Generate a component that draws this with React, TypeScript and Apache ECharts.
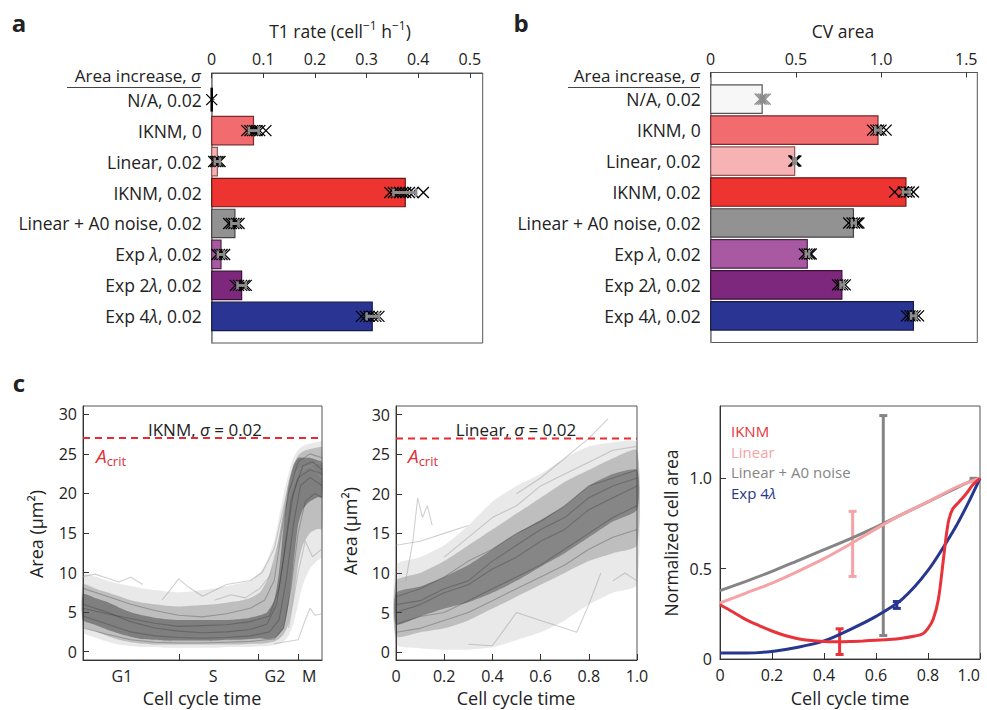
import React, { useEffect, useRef } from 'react';
import * as echarts from 'echarts';

const FONT = '"Open Sans", "Noto Sans", sans-serif';
const TXT = '#222';

// ---------- panels a & b ----------
const categories = ['N/A, 0.02', 'IKNM, 0', 'Linear, 0.02', 'IKNM, 0.02', 'Linear + A0 noise, 0.02', 'Exp λ, 0.02', 'Exp 2λ, 0.02', 'Exp 4λ, 0.02'];
const barColors = ['#f7f7f7', '#f26b6e', '#f7b2b4', '#ee3431', '#929292', '#a959a2', '#7d287c', '#2a3593'];
const barBorders = ['#555555', '#7a2a2c', '#8b5a5c', '#6d1514', '#444444', '#4a2447', '#3a1039', '#141a4a'];

const t1Ticks = [0, 0.1, 0.2, 0.3, 0.4, 0.5];
const t1Rate = [0, 0.081, 0.011, 0.375, 0.045, 0.018, 0.058, 0.311];
const t1ErrLow = [null, 0.072, 0.006, 0.352, 0.038, 0.012, 0.05, 0.3];
const t1ErrHigh = [null, 0.091, 0.016, 0.396, 0.052, 0.024, 0.066, 0.324];
const t1Runs = [
  [0],
  [0.068, 0.074, 0.079, 0.083, 0.088, 0.093, 0.105],
  [0.004, 0.008, 0.012, 0.016],
  [0.345, 0.352, 0.358, 0.364, 0.37, 0.376, 0.383, 0.39, 0.41],
  [0.033, 0.038, 0.043, 0.048, 0.053],
  [0.01, 0.015, 0.02, 0.025],
  [0.046, 0.052, 0.058, 0.063, 0.067],
  [0.29, 0.298, 0.305, 0.312, 0.318, 0.324],
];

const cvTicks = [0, 0.5, 1.0, 1.5];
const cvArea = [0.302, 0.982, 0.493, 1.146, 0.838, 0.567, 0.77, 1.19];
const cvErrLow = [0.295, 0.966, 0.486, 1.128, 0.828, 0.558, 0.762, 1.176];
const cvErrHigh = [0.312, 0.998, 0.5, 1.168, 0.852, 0.578, 0.782, 1.206];
const cvRuns = [
  [0.29, 0.3, 0.31, 0.32],
  [0.95, 0.97, 0.985, 1.0, 1.03],
  [0.488, 0.493, 0.5],
  [1.08, 1.13, 1.15, 1.165, 1.19],
  [0.81, 0.83, 0.845, 0.86, 0.87],
  [0.55, 0.565, 0.58, 0.59],
  [0.745, 0.76, 0.775, 0.79],
  [1.15, 1.17, 1.185, 1.2, 1.22],
];

// ---------- panel c left: IKNM trajectories ----------
const areaTicks = [0, 5, 10, 15, 20, 25, 30];
const aCrit = 27;
const phaseBoundaries = [0.402, 0.732, 0.9];
const phaseLabelPos = [0.163, 0.544, 0.803, 0.946];
const phaseLabels = ['G1', 'S', 'G2', 'M'];

const iknmT = [0, 0.05, 0.1, 0.15, 0.2, 0.25, 0.3, 0.35, 0.4, 0.45, 0.5, 0.55, 0.6, 0.65, 0.7, 0.74, 0.77, 0.8, 0.82, 0.84, 0.86, 0.88, 0.9, 0.92, 0.95, 0.98, 1.0];
const iknmOuterLow = [2.5, 1.8, 1.3, 0.9, 0.7, 0.6, 0.6, 0.5, 0.5, 0.5, 0.5, 0.5, 0.6, 0.6, 0.6, 0.7, 0.7, 0.8, 1.0, 1.3, 2.0, 3.5, 6.0, 8.5, 10.5, 11.5, 12.0];
const iknmOuterHigh = [9.8, 9.5, 9.0, 8.6, 8.3, 8.0, 7.8, 7.6, 7.5, 7.6, 7.8, 8.0, 8.3, 8.6, 9.0, 10.0, 11.5, 14.0, 17.0, 20.0, 22.5, 24.5, 25.5, 26.0, 26.3, 26.5, 26.6];
const iknmMidLow = [3.2, 2.6, 2.0, 1.5, 1.2, 1.0, 0.9, 0.9, 0.9, 0.9, 0.9, 0.9, 0.9, 0.9, 1.0, 1.0, 1.1, 1.3, 1.6, 2.2, 3.5, 6.5, 11.0, 13.5, 15.0, 15.5, 15.5];
const iknmMidHigh = [8.5, 8.0, 7.5, 7.0, 6.5, 6.2, 6.0, 5.8, 5.7, 5.8, 5.9, 6.0, 6.2, 6.4, 6.8, 7.5, 9.0, 11.5, 14.5, 18.0, 21.5, 23.5, 24.8, 25.3, 25.6, 25.8, 25.8];
const iknmCoreLow = [4.0, 3.4, 2.8, 2.3, 1.9, 1.6, 1.5, 1.4, 1.4, 1.4, 1.4, 1.4, 1.5, 1.5, 1.6, 1.7, 1.6, 1.7, 2.2, 3.0, 6.0, 11.0, 16.0, 18.0, 19.0, 19.5, 19.5];
const iknmCoreHigh = [7.3, 6.8, 6.3, 5.6, 5.0, 4.6, 4.3, 4.1, 4.0, 4.0, 4.0, 4.0, 4.0, 4.1, 4.3, 4.6, 5.0, 6.5, 10.0, 16.0, 21.0, 23.5, 24.5, 24.5, 24.5, 24.2, 24.0];
const iknmTraces = [
  [[0.5, 7], [0.6, 8.5], [0.7, 9], [0.75, 10], [0.8, 13], [0.83, 17], [0.86, 21], [0.9, 23], [1.0, 24]],
  [[0.8, 1.0], [0.9, 1.5], [0.93, 4], [0.95, 5.5], [0.97, 4.6], [1.0, 4.8]],
  [[0.33, 6.5], [0.37, 8], [0.4, 9.2], [0.44, 8.2], [0.5, 7]],
  [[0.86, 3], [0.9, 10], [0.93, 14], [0.96, 12], [1.0, 13]],
  [[0, 9.5], [0.05, 9.8], [0.1, 9.3], [0.15, 8.8], [0.2, 9.4], [0.25, 8.5]],
  [[0.55, 6.5], [0.62, 7.2], [0.68, 6.8], [0.74, 8], [0.78, 9.5], [0.82, 14], [0.85, 19], [0.9, 22.5], [0.95, 23.5], [1.0, 22]],
];
const iknmCoreTraces = [
  [[0, 6], [0.1, 5], [0.2, 3.8], [0.3, 3], [0.4, 2.6], [0.5, 2.4], [0.6, 2.5], [0.7, 2.8], [0.77, 3.5], [0.81, 6], [0.84, 12], [0.87, 19], [0.9, 22], [0.95, 23], [1, 22.5]],
  [[0, 4.5], [0.1, 3.5], [0.2, 2.5], [0.3, 2], [0.4, 1.8], [0.5, 1.7], [0.6, 1.8], [0.7, 2], [0.78, 2.5], [0.82, 4], [0.85, 9], [0.88, 16], [0.91, 21], [0.95, 22], [1, 21]],
  [[0, 8], [0.1, 7], [0.2, 6], [0.3, 5.2], [0.4, 4.6], [0.5, 4.4], [0.6, 4.8], [0.7, 5.5], [0.76, 6.5], [0.8, 9], [0.83, 15], [0.86, 20], [0.9, 24], [0.95, 25], [1, 24.5]],
  [[0, 3], [0.1, 2.2], [0.2, 1.5], [0.3, 1.2], [0.4, 1.1], [0.5, 1.1], [0.6, 1.2], [0.7, 1.3], [0.8, 1.6], [0.84, 3], [0.87, 8], [0.9, 15], [0.93, 19], [0.97, 20], [1, 19.5]],
  [[0, 5.5], [0.1, 4.8], [0.2, 4.2], [0.3, 3.6], [0.4, 3.2], [0.5, 3.3], [0.6, 3.4], [0.7, 3.8], [0.78, 4.5], [0.82, 8], [0.85, 14], [0.88, 20], [0.92, 23.5], [0.96, 24], [1, 23]],
];

// ---------- panel c middle: Linear trajectories ----------
const cycleTicks = [0, 0.2, 0.4, 0.6, 0.8, 1.0];
const linT = [0, 0.1, 0.2, 0.3, 0.4, 0.5, 0.6, 0.7, 0.8, 0.9, 1.0];
const linOuterLow = [1.0, 0.5, 0.3, 0.3, 0.6, 1.5, 2.5, 4.0, 6.0, 7.5, 8.5];
const linOuterHigh = [11.0, 12.0, 13.5, 16.0, 19.0, 21.0, 22.5, 24.5, 26.0, 26.5, 26.5];
const linMidLow = [2.0, 2.5, 3.0, 4.0, 5.5, 7.0, 8.5, 10.0, 11.5, 12.5, 13.5];
const linMidHigh = [9.0, 10.0, 11.5, 13.5, 15.5, 17.5, 19.5, 21.5, 23.0, 24.5, 25.5];
const linCoreLow = [3.5, 4.5, 5.5, 6.3, 7.5, 9.0, 10.8, 12.5, 14.5, 16.5, 18.0];
const linCoreHigh = [7.5, 8.3, 9.5, 11.0, 13.0, 15.0, 16.7, 18.5, 21.0, 22.5, 23.0];
const linTraces = [
  [[0.04, 9], [0.07, 14], [0.09, 19.5], [0.11, 17], [0.13, 18.5], [0.15, 16]],
  [[0.5, 20], [0.6, 22], [0.7, 24.5], [0.8, 27], [0.88, 29.5]],
  [[0, 13.5], [0.1, 14], [0.2, 15], [0.3, 16]],
  [[0.3, 1], [0.4, 0.8], [0.5, 5], [0.6, 4], [0.7, 3], [0.75, 2.5], [0.8, 6], [0.85, 10]],
  [[0.9, 9], [0.95, 10], [1.0, 9]],
  [[0.2, 12], [0.3, 14.5], [0.4, 17], [0.5, 18.5], [0.6, 21], [0.7, 22.5], [0.8, 24], [0.9, 25.5], [1.0, 26]],
];
const linCoreTraces = [
  [[0, 5], [0.1, 6], [0.2, 7.5], [0.3, 8.5], [0.4, 10.5], [0.5, 12], [0.6, 14], [0.7, 15.5], [0.8, 18], [0.9, 19.5], [1, 21]],
  [[0, 3.5], [0.1, 4.5], [0.2, 5], [0.3, 6.5], [0.4, 8], [0.5, 9.5], [0.6, 11], [0.7, 13], [0.8, 15], [0.9, 17], [1, 18.5]],
  [[0, 7], [0.1, 8], [0.2, 9.5], [0.3, 11.5], [0.4, 13], [0.5, 15], [0.6, 16.5], [0.7, 18.5], [0.8, 21], [0.9, 22], [1, 23]],
  [[0, 6], [0.1, 6.5], [0.2, 8], [0.3, 9], [0.4, 11.5], [0.5, 13.5], [0.6, 15.5], [0.7, 17], [0.8, 19.5], [0.9, 21], [1, 22]],
  [[0, 2.5], [0.1, 3], [0.2, 4], [0.3, 5], [0.4, 6.5], [0.5, 8], [0.6, 9.5], [0.7, 11], [0.8, 13], [0.9, 14.5], [1, 15.5]],
];

// ---------- panel c right: normalized curves ----------
const normTicksY = [0, 0.5, 1.0];
const iknmNormT = [0, 0.05, 0.1, 0.15, 0.2, 0.25, 0.3, 0.35, 0.4, 0.45, 0.5, 0.55, 0.6, 0.65, 0.7, 0.75, 0.78, 0.8, 0.82, 0.84, 0.86, 0.87, 0.88, 0.895, 0.92, 0.95, 0.97, 1.0];
const iknmNorm = [0.30, 0.26, 0.218, 0.185, 0.155, 0.13, 0.112, 0.102, 0.097, 0.096, 0.097, 0.1, 0.104, 0.108, 0.115, 0.127, 0.14, 0.17, 0.22, 0.33, 0.56, 0.68, 0.77, 0.83, 0.87, 0.92, 0.96, 1.0];
const curveT = [0, 0.1, 0.2, 0.3, 0.4, 0.5, 0.6, 0.7, 0.8, 0.9, 0.95, 1.0];
const linearNorm = [0.31, 0.365, 0.42, 0.485, 0.555, 0.635, 0.72, 0.8, 0.87, 0.945, 0.975, 1.0];
const linearA0Norm = [0.378, 0.43, 0.485, 0.545, 0.605, 0.665, 0.73, 0.8, 0.87, 0.94, 0.975, 1.0];
const exp4Norm = [0.033, 0.033, 0.042, 0.065, 0.1, 0.163, 0.236, 0.33, 0.49, 0.715, 0.85, 1.0];
// [t, low, high, colorIndex]
const normErrBars = [
  [0.46, 0.025, 0.167, 0],
  [0.51, 0.457, 0.817, 1],
  [0.628, 0.13, 1.347, 2],
  [0.68, 0.28, 0.318, 3],
  [0.975, 0.985, 1.0, 2],
];
const normNames = ['IKNM', 'Linear', 'Linear + A0 noise', 'Exp 4λ'];
const normColors = ['#e8333a', '#f5a3a6', '#858585', '#27378f'];

// ---------- helpers ----------
const fmtNum = (v: number) => (v === 0 ? '0' : v.toFixed(1));

function barSeries(ax: number, values: number[]) {
  return {
    type: 'custom', xAxisIndex: ax, yAxisIndex: ax, silent: true,
    data: values.map((v, i) => [v, i]),
    renderItem: (p: any, api: any) => {
      const v = api.value(0); const i = api.value(1);
      const p0 = api.coord([0, i]); const p1 = api.coord([v, i]);
      const h = Math.abs(api.size([0, 0.92])[1]);
      if (v < 1e-6) {
        return { type: 'line', shape: { x1: p0[0], y1: p0[1] - h * 0.42, x2: p0[0], y2: p0[1] + h * 0.42 }, style: { stroke: '#000', lineWidth: 2.5 } };
      }
      return { type: 'rect', shape: { x: p0[0], y: p0[1] - h / 2, width: p1[0] - p0[0], height: h }, style: { fill: barColors[i], stroke: barBorders[i], lineWidth: 1.2 } };
    },
  };
}

function crossSeries(ax: number, runs: number[][], grayFirst: boolean) {
  const data: number[][] = [];
  runs.forEach((r, i) => r.forEach((v) => data.push([v, i])));
  return {
    type: 'custom', xAxisIndex: ax, yAxisIndex: ax, silent: true, data,
    renderItem: (p: any, api: any) => {
      const c = api.coord([api.value(0), api.value(1)]);
      const s = 5.5;
      const col = grayFirst && api.value(1) === 0 ? '#8f8f8f' : '#000';
      return {
        type: 'group', children: [
          { type: 'line', shape: { x1: c[0] - s, y1: c[1] - s, x2: c[0] + s, y2: c[1] + s }, style: { stroke: col, lineWidth: 1.3 } },
          { type: 'line', shape: { x1: c[0] - s, y1: c[1] + s, x2: c[0] + s, y2: c[1] - s }, style: { stroke: col, lineWidth: 1.3 } },
        ],
      };
    },
  };
}

function hErrSeries(ax: number, lo: (number | null)[], hi: (number | null)[]) {
  const data: number[][] = [];
  lo.forEach((l, i) => { if (l !== null && hi[i] !== null) data.push([i, l as number, hi[i] as number]); });
  return {
    type: 'custom', xAxisIndex: ax, yAxisIndex: ax, silent: true, data,
    encode: { x: [1, 2], y: 0 },
    renderItem: (p: any, api: any) => {
      const i = api.value(0);
      const a = api.coord([api.value(1), i]); const b = api.coord([api.value(2), i]);
      const c = '#8c8c8c';
      return {
        type: 'group', children: [
          { type: 'line', shape: { x1: a[0], y1: a[1], x2: b[0], y2: b[1] }, style: { stroke: c, lineWidth: 3 } },
          { type: 'line', shape: { x1: a[0], y1: a[1] - 4, x2: a[0], y2: a[1] + 4 }, style: { stroke: c, lineWidth: 2.5 } },
          { type: 'line', shape: { x1: b[0], y1: b[1] - 4, x2: b[0], y2: b[1] + 4 }, style: { stroke: c, lineWidth: 2.5 } },
        ],
      };
    },
  };
}

function bandSeries(ax: number, t: number[], lo: number[], hi: number[], fill: string) {
  return {
    type: 'custom', xAxisIndex: ax, yAxisIndex: ax, silent: true, data: [[t[0], lo[0]]],
    renderItem: (p: any, api: any) => {
      const pts: number[][] = [];
      for (let i = 0; i < t.length; i++) pts.push(api.coord([t[i], lo[i]]));
      for (let i = t.length - 1; i >= 0; i--) pts.push(api.coord([t[i], hi[i]]));
      return { type: 'polygon', shape: { points: pts, smooth: 0.2 }, style: { fill } };
    },
  };
}

function traceSeries(ax: number, pts: number[][], color: string) {
  return {
    type: 'line', xAxisIndex: ax, yAxisIndex: ax, data: pts, showSymbol: false, silent: true,
    lineStyle: { color, width: 1.1 },
  };
}

function critSeries(ax: number) {
  return {
    type: 'line', xAxisIndex: ax, yAxisIndex: ax, data: [[0, aCrit], [1, aCrit]], showSymbol: false, silent: true,
    lineStyle: { color: '#ea2a2f', width: 2, type: [7, 5] },
  };
}

function catAxis(grid: number) {
  return {
    type: 'value', gridIndex: grid, inverse: true, min: -0.86, max: 7.86,
    axisLine: { show: true, onZero: false, lineStyle: { color: '#8a8a8a', width: 1.6 } },
    axisTick: { show: true, inside: true, length: 3, customValues: categories.map((_, i) => i), lineStyle: { color: '#666' } },
    axisLabel: {
      customValues: categories.map((_, i) => i), margin: 10, fontSize: 17.5, fontFamily: FONT, color: TXT,
      formatter: (v: number) => (categories[Math.round(v)] || '').replace('λ', '{i|λ}'),
      rich: { i: { fontStyle: 'italic', fontSize: 17.5, fontFamily: FONT, color: TXT } },
    },
    splitLine: { show: false },
  };
}

function topAxis(grid: number, max: number, ticks: number[]) {
  return {
    type: 'value', gridIndex: grid, position: 'top', min: 0, max,
    axisLine: { show: true, onZero: false, lineStyle: { color: '#555', width: 1 } },
    axisTick: { show: true, inside: true, length: 5, customValues: ticks, lineStyle: { color: '#333' } },
    axisLabel: { customValues: ticks, margin: 6, fontSize: 16, fontFamily: FONT, color: TXT, formatter: fmtNum },
    splitLine: { show: false },
  };
}

function plainAxis(grid: number, pos: string, min: number, max: number, ticks: number[], labels: number[], fmt: (v: number) => string, margin: number, extra: any = {}) {
  return {
    type: 'value', gridIndex: grid, position: pos, min, max,
    axisLine: { show: true, onZero: false, lineStyle: { color: '#333', width: 1 } },
    axisTick: { show: true, inside: true, length: 6, customValues: ticks, lineStyle: { color: '#333' } },
    axisLabel: { customValues: labels, margin, fontSize: 16, fontFamily: FONT, color: TXT, formatter: fmt, ...extra },
    splitLine: { show: false },
  };
}

const txt = (x: number, y: number, text: string, o: any = {}) => ({
  type: 'text', x, y, silent: true, rotation: o.rotation || 0,
  style: {
    text, fontSize: o.fontSize || 18, fontFamily: FONT, fontWeight: o.fontWeight || 'normal',
    fontStyle: o.fontStyle || 'normal', fill: o.fill || TXT, lineHeight: o.lineHeight,
    align: o.align || 'center', verticalAlign: o.verticalAlign || 'middle',
    textAlign: o.align || 'center', textVerticalAlign: o.verticalAlign || 'middle',
    rich: o.rich,
  },
});

const mkRich = (size: number, extraLh = 5) => ({
  b: { fontSize: size, fontFamily: FONT, lineHeight: size + extraLh, fill: TXT, color: TXT },
  sup: { fontSize: Math.round(size * 0.68), fontFamily: FONT, lineHeight: 13, verticalAlign: 'top', fill: TXT, color: TXT },
  i: { fontSize: size, fontFamily: FONT, fontStyle: 'italic', lineHeight: size + extraLh, fill: TXT, color: TXT },
});
const critRich = {
  a: { fontSize: 19, fontFamily: FONT, fontStyle: 'italic', lineHeight: 23, fill: '#e0323a', color: '#e0323a' },
  s: { fontSize: 13, fontFamily: FONT, lineHeight: 15, verticalAlign: 'bottom', fill: '#e0323a', color: '#e0323a' },
};

export default function App() {
  const ref = useRef<HTMLDivElement>(null);
  useEffect(() => {
    if (!ref.current) return;
    const chart = echarts.init(ref.current, undefined, { renderer: 'svg' });
    const grids = [
      { left: 211.7, top: 73, width: 271, height: 270 },
      { left: 710.7, top: 72.5, width: 266.6, height: 270 },
      { left: 83, top: 406, width: 239, height: 254 },
      { left: 396, top: 406, width: 241, height: 254 },
      { left: 720, top: 406, width: 260, height: 253 },
    ].map((g) => ({ ...g, show: true, borderColor: '#555', borderWidth: 1, backgroundColor: 'transparent', containLabel: false, outerBoundsMode: 'none' }));

    const outerTrace = 'rgba(150,150,150,0.45)';
    const coreTrace = 'rgba(40,40,40,0.28)';

    const option: any = {
      animation: false,
      backgroundColor: '#fff',
      textStyle: { fontFamily: FONT },
      grid: grids,
      xAxis: [
        topAxis(0, 0.525, t1Ticks),
        topAxis(1, 1.565, cvTicks),
        plainAxis(2, 'bottom', 0, 1, phaseBoundaries, phaseLabelPos, (v: number) => {
          let best = 0;
          phaseLabelPos.forEach((p, i) => { if (Math.abs(p - v) < Math.abs(phaseLabelPos[best] - v)) best = i; });
          return phaseLabels[best];
        }, 8),
        plainAxis(3, 'bottom', 0, 1, cycleTicks, cycleTicks, fmtNum, 8),
        plainAxis(4, 'bottom', 0, 1, cycleTicks, cycleTicks, fmtNum, 8, { alignMaxLabel: 'right' }),
      ],
      yAxis: [
        catAxis(0),
        catAxis(1),
        plainAxis(2, 'left', -1.05, 31.05, areaTicks, areaTicks, (v: number) => String(v), 6),
        plainAxis(3, 'left', -1.0, 31.1, areaTicks, areaTicks, (v: number) => String(v), 6),
        plainAxis(4, 'left', 0, 1.4, normTicksY, normTicksY, fmtNum, 8),
      ],
      series: [
        barSeries(0, t1Rate),
        crossSeries(0, t1Runs, false),
        hErrSeries(0, t1ErrLow, t1ErrHigh),
        barSeries(1, cvArea),
        crossSeries(1, cvRuns, true),
        hErrSeries(1, cvErrLow, cvErrHigh),

        bandSeries(2, iknmT, iknmOuterLow, iknmOuterHigh, 'rgba(120,120,120,0.16)'),
        ...iknmTraces.map((tr) => traceSeries(2, tr, outerTrace)),
        bandSeries(2, iknmT, iknmMidLow, iknmMidHigh, 'rgba(70,70,70,0.26)'),
        bandSeries(2, iknmT, iknmCoreLow, iknmCoreHigh, 'rgba(50,50,50,0.45)'),
        ...iknmCoreTraces.map((tr) => traceSeries(2, tr, coreTrace)),
        critSeries(2),

        bandSeries(3, linT, linOuterLow, linOuterHigh, 'rgba(120,120,120,0.16)'),
        ...linTraces.map((tr) => traceSeries(3, tr, outerTrace)),
        bandSeries(3, linT, linMidLow, linMidHigh, 'rgba(70,70,70,0.26)'),
        bandSeries(3, linT, linCoreLow, linCoreHigh, 'rgba(50,50,50,0.4)'),
        ...linCoreTraces.map((tr) => traceSeries(3, tr, coreTrace)),
        critSeries(3),

        ...[
          { d: linearA0Norm, t: curveT, c: 2 },
          { d: linearNorm, t: curveT, c: 1 },
          { d: exp4Norm, t: curveT, c: 3 },
          { d: iknmNorm, t: iknmNormT, c: 0 },
        ].map((s) => ({
          type: 'line', xAxisIndex: 4, yAxisIndex: 4, silent: true, showSymbol: false,
          smooth: 0.3,
          data: s.t.map((t, i) => [t, s.d[i]]),
          lineStyle: { color: normColors[s.c], width: 3 },
        })),
        {
          type: 'custom', xAxisIndex: 4, yAxisIndex: 4, silent: true, data: normErrBars,
          encode: { x: 0, y: [1, 2] },
          renderItem: (p: any, api: any) => {
            const a = api.coord([api.value(0), api.value(1)]);
            const b = api.coord([api.value(0), api.value(2)]);
            const c = normColors[api.value(3)];
            return {
              type: 'group', children: [
                { type: 'line', shape: { x1: a[0], y1: a[1], x2: b[0], y2: b[1] }, style: { stroke: c, lineWidth: 3 } },
                { type: 'line', shape: { x1: a[0] - 4, y1: a[1], x2: a[0] + 4, y2: a[1] }, style: { stroke: c, lineWidth: 3 } },
                { type: 'line', shape: { x1: b[0] - 4, y1: b[1], x2: b[0] + 4, y2: b[1] }, style: { stroke: c, lineWidth: 3 } },
              ],
            };
          },
        },
      ],
      graphic: [
        txt(19, 22, 'a', { fontSize: 24, fontWeight: 'bold' }),
        txt(521, 22, 'b', { fontSize: 24, fontWeight: 'bold' }),
        txt(19, 382, 'c', { fontSize: 24, fontWeight: 'bold' }),
        txt(340, 31, '{b|T1 rate (cell}{sup|−1}{b| h}{sup|−1}{b|)}', { rich: mkRich(17.5) }),
        txt(843, 31, 'CV area', { fontSize: 17.5 }),
        txt(201, 75.5, '{b|Area increase, }{i|σ}', { align: 'right', rich: mkRich(17, 1) }),
        { type: 'line', silent: true, shape: { x1: 67, y1: 87.5, x2: 201, y2: 87.5 }, style: { stroke: '#444', lineWidth: 1 } },
        txt(700, 75.5, '{b|Area increase, }{i|σ}', { align: 'right', rich: mkRich(17, 1) }),
        { type: 'line', silent: true, shape: { x1: 568, y1: 87.5, x2: 700, y2: 87.5 }, style: { stroke: '#444', lineWidth: 1 } },

        txt(205, 429, '{b|IKNM, }{i|σ}{b| = 0.02}', { rich: mkRich(17) }),
        txt(516, 429, '{b|Linear, }{i|σ}{b| = 0.02}', { rich: mkRich(17) }),
        txt(96, 456, '{a|A}{s|crit}', { align: 'left', rich: critRich }),
        txt(408, 456, '{a|A}{s|crit}', { align: 'left', rich: critRich }),
        txt(36, 534, 'Area (µm²)', { rotation: Math.PI / 2 }),
        txt(350, 531, 'Area (µm²)', { rotation: Math.PI / 2 }),
        txt(671, 533, 'Normalized cell area', { rotation: Math.PI / 2, fontSize: 17.5 }),
        txt(202, 698, 'Cell cycle time'),
        txt(516, 698, 'Cell cycle time'),
        txt(850, 698, 'Cell cycle time'),
        ...normNames.map((n, i) => txt(731, 431 + i * 20.6, n.replace('λ', '{l|λ}'), {
          align: 'left', fill: normColors[i], fontSize: 15, lineHeight: 18,
          rich: { l: { fontSize: 15, lineHeight: 18, fontFamily: FONT, fontStyle: 'italic', fill: normColors[i], color: normColors[i] } },
        })),
      ],
    };
    chart.setOption(option);
    return () => chart.dispose();
  }, []);
  return <div ref={ref} style={{ position: 'absolute', left: 0, top: 0, width: 987, height: 710, background: '#fff' }} />;
}
